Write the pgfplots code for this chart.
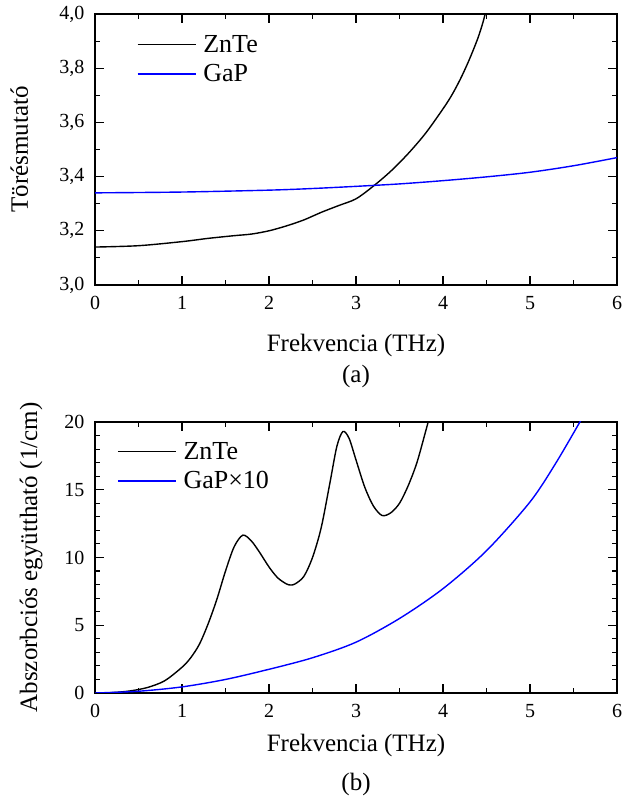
\documentclass[border=0pt]{standalone}
\usepackage{fontspec}
\setmainfont{Liberation Serif}
\usepackage{pgfplots}
\pgfplotsset{compat=1.18}
\begin{document}
\begin{tikzpicture}
\useasboundingbox (0pt,0pt) rectangle (624pt,805pt);
\pgfplotsset{
  every axis/.append style={
    scale only axis, width=522pt, height=271pt,
    xmin=0, xmax=6, xtick={0,1,2,3,4,5,6},
    minor x tick num=1,
    tick align=inside, tick pos=both,
    major tick length=9pt, minor tick length=5pt,
    axis line style={line width=1.4pt},
    every tick/.style={line width=1.1pt, black},
    tick label style={font=\fontsize{20}{24}\selectfont},
    xticklabel style={yshift=-8pt},
    yticklabel style={xshift=-7pt},
    label style={font=\fontsize{25}{30}\selectfont},
    xlabel={Frekvencia (THz)},
    ylabel style={at={(axis description cs:0,0.5)}, anchor=base},
    /pgf/number format/assume math mode=true,
    legend cell align=left,
    legend style={draw=none, fill=none, inner sep=0pt, row sep=7pt,
      font=\fontsize{26}{31}\selectfont},
    legend image code/.code={\draw[#1] (0pt,0pt) -- (58pt,0pt); \path (63pt,0pt);},
  }
}
\begin{axis}[
  at={(95pt,520pt)}, anchor=south west,
  ymin=3.0, ymax=4.0, ytick={3.0,3.2,3.4,3.6,3.8,4.0},
  minor y tick num=1,
  yticklabel style={/pgf/number format/.cd, fixed, fixed zerofill, precision=1, use comma},
  ylabel={Törésmutató},
  ylabel style={yshift=67pt},
  xlabel style={at={(axis description cs:0.5,0)}, anchor=base, yshift=-67pt},
  legend style={at={(0.08,0.93)}, anchor=north west},
]
\addplot[black, line width=1.4pt, smooth] coordinates {
(0,3.140) (0.5,3.145) (1.0,3.160) (1.3,3.172) (1.6,3.182) (1.8,3.188)
(2.0,3.200) (2.2,3.218) (2.4,3.240) (2.6,3.268) (2.8,3.293) (3.0,3.318)
(3.2,3.365) (3.4,3.420) (3.6,3.485) (3.8,3.560) (4.0,3.650) (4.1,3.700)
(4.2,3.760) (4.3,3.830) (4.4,3.910) (4.46,3.97) (4.5,4.02)};
\addlegendentry{ZnTe}
\addplot[blue, line width=1.4pt, smooth] coordinates {
(0,3.340) (1,3.343) (2,3.350) (2.5,3.356) (3,3.364) (3.5,3.373)
(4,3.385) (4.5,3.399) (5,3.416) (5.5,3.440) (6,3.470)};
\addlegendentry{GaP}
\end{axis}
\node[font=\fontsize{25}{30}\selectfont, anchor=base] at (356pt,422pt) {(a)};
\begin{axis}[
  at={(95pt,112pt)}, anchor=south west,
  ymin=0, ymax=20, ytick={0,5,10,15,20},
  minor y tick num=4,
  ylabel={Abszorbciós együttható (1/cm)},
  ylabel style={yshift=58pt},
  xlabel style={at={(axis description cs:0.5,0)}, anchor=base, yshift=-59pt},
  legend style={at={(0.042,0.934)}, anchor=north west},
]
\addplot[black, line width=1.4pt, smooth] coordinates {
(0,0) (0.2,0.03) (0.4,0.15) (0.6,0.4) (0.8,0.9) (1.0,1.9) (1.1,2.6)
(1.2,3.6) (1.3,5.1) (1.4,6.9) (1.5,9.0) (1.6,10.8) (1.7,11.65) (1.8,11.2)
(1.9,10.3) (2.0,9.3) (2.1,8.5) (2.2,8.05) (2.25,7.97) (2.3,8.05) (2.4,8.6)
(2.5,10.0) (2.6,12.2) (2.7,15.5) (2.78,18.2) (2.85,19.3) (2.92,18.8)
(3.0,17.2) (3.1,15.2) (3.2,13.8) (3.3,13.1) (3.4,13.3) (3.5,14.0)
(3.6,15.3) (3.7,17.0) (3.8,19.3) (3.85,20.5)};
\addlegendentry{ZnTe}
\addplot[blue, line width=1.4pt, smooth] coordinates {
(0,0) (0.5,0.13) (1.0,0.45) (1.5,1.0) (2.0,1.75) (2.5,2.6) (3.0,3.75)
(3.5,5.5) (4.0,7.7) (4.5,10.5) (5.0,14.1) (5.3,17.0) (5.6,20.3)};
\addlegendentry{GaP×10}
\end{axis}
\node[font=\fontsize{25}{30}\selectfont, anchor=base] at (356pt,14pt) {(b)};
\end{tikzpicture}
\end{document}
